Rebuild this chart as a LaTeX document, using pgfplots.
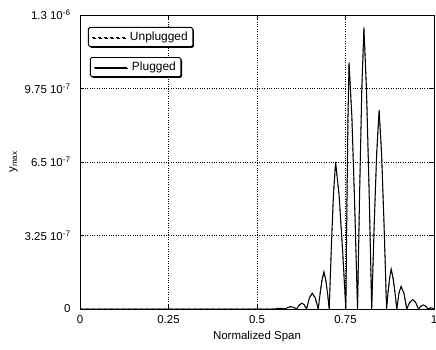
\documentclass[border=0pt]{standalone}
\usepackage{pgfplots}
\pgfplotsset{compat=1.18}
\usepackage{fontspec}
\setmainfont{Liberation Sans}
\usetikzlibrary{shadows}
\begin{document}
\pgfplotstableread{
x y
0.000 0
0.550 0
0.5575 0.021
0.565 0.03
0.572 0.021
0.579 0
0.587 0.071
0.595 0.10
0.6035 0.071
0.612 0
0.6195 0.184
0.627 0.26
0.6335 0.184
0.640 0
0.648 0.495
0.656 0.70
0.6645 0.495
0.673 0
0.6783 0.69
0.6837 1.29
0.689 1.65
0.6942 1.29
0.6993 0.69
0.704 0
0.710 2.73
0.716 5.07
0.722 6.50
0.7317 5.07
0.7413 2.73
0.751 0
0.754 4.58
0.757 8.50
0.760 10.90
0.768 8.50
0.776 4.58
0.784 0
0.790 5.23
0.796 9.71
0.802 12.45
0.8093 9.71
0.8167 5.23
0.824 0
0.831 3.70
0.838 6.86
0.845 8.80
0.852 6.86
0.859 3.70
0.866 0
0.8703 0.74
0.8747 1.38
0.879 1.77
0.8843 1.38
0.8897 0.74
0.895 0
0.901 0.707
0.907 1.00
0.915 0.707
0.923 0
0.9315 0.297
0.940 0.42
0.948 0.297
0.956 0
0.963 0.127
0.970 0.18
0.9765 0.127
0.983 0
0.9875 0.035
0.992 0.05
0.996 0.035
1.000 0
}\plugged
\pgfplotstableread{
x y
0.000 0
0.550 0
0.5575 0.020
0.565 0.03
0.572 0.020
0.579 0
0.587 0.068
0.595 0.10
0.6035 0.068
0.612 0
0.6195 0.18
0.627 0.25
0.6335 0.18
0.640 0
0.648 0.48
0.656 0.68
0.6645 0.48
0.673 0
0.6783 0.67
0.6837 1.26
0.689 1.62
0.6942 1.26
0.6993 0.67
0.704 0
0.710 2.70
0.716 5.02
0.722 6.45
0.7317 5.02
0.7413 2.70
0.751 0
0.754 4.55
0.757 8.45
0.760 10.85
0.768 8.45
0.776 4.55
0.784 0
0.790 5.20
0.796 9.66
0.802 12.40
0.8093 9.66
0.8167 5.20
0.824 0
0.831 3.67
0.838 6.82
0.845 8.75
0.852 6.82
0.859 3.67
0.866 0
0.8703 0.72
0.8747 1.35
0.879 1.74
0.8843 1.35
0.8897 0.72
0.895 0
0.901 0.69
0.907 0.98
0.915 0.69
0.923 0
0.9315 0.29
0.940 0.41
0.948 0.29
0.956 0
0.963 0.125
0.970 0.175
0.9765 0.125
0.983 0
0.9875 0.035
0.992 0.05
0.996 0.035
1.000 0
}\unplugged
\begin{tikzpicture}
\pgfplotsset{
  common/.style={
    scale only axis,
    width=354bp, height=294bp,
    xmin=0, xmax=1, ymin=0, ymax=13,
  },
  lgd/.style={
    legend cell align=left,
    legend style={font=\fontsize{12}{14}\selectfont, draw=black, line width=0.9pt,
      rounded corners=1.5pt, fill=white,
      drop shadow={shadow xshift=1.2pt, shadow yshift=-1.2pt, fill=black, opacity=1},
      inner xsep=3pt, inner ysep=2.5pt},
    legend image code/.code={\draw[##1, line width=0.4pt] (0bp,0bp) -- (33bp,0bp); \path (36bp,0bp);},
  },
}
\begin{axis}[common, name=main,
  axis line style={line width=0.8pt},
  tick style={black, line width=0.6pt},
  tick align=inside,
  major tick length=4pt,
  xtick={0,0.25,0.5,0.75,1},
  xticklabels={0,0.25,0.5,0.75,1},
  ytick={0,3.25,6.5,9.75,13},
  yticklabels={0,{3.25 10\textsuperscript{-7}},{6.5 10\textsuperscript{-7}},{9.75 10\textsuperscript{-7}},{1.3 10\textsuperscript{-6}}},
  tick label style={font=\fontsize{11.5}{13}\selectfont},
  xticklabel style={yshift=-3pt},
  yticklabel style={xshift=-6pt},
  /pgf/number format/assume math mode=true,
  grid=major,
  major grid style={black, dotted, line width=0.6pt},
  xlabel={Normalized Span},
  ylabel={y\textsubscript{max}},
  label style={font=\fontsize{11.5}{13}\selectfont},
  xlabel style={yshift=-1pt},
  ylabel style={yshift=0pt},
  lgd,
  legend style={at={(axis cs:0.0226,12.47)}, anchor=north west},
]
\addplot[black, dashed, line width=0.7pt] table {\unplugged};
\addlegendentry{Unplugged}
\addplot[black, line width=1pt, forget plot] table {\plugged};
\end{axis}
\begin{axis}[common, hide axis, lgd,
  legend style={at={(axis cs:0.028,11.14)}, anchor=north west},
]
\addlegendimage{black}
\addlegendentry{Plugged}
\end{axis}
\pgfresetboundingbox
\path[use as bounding box] ([shift={(-80bp,-41bp)}]main.south west) rectangle ([shift={(2bp,15bp)}]main.north east);
\end{tikzpicture}
\end{document}
